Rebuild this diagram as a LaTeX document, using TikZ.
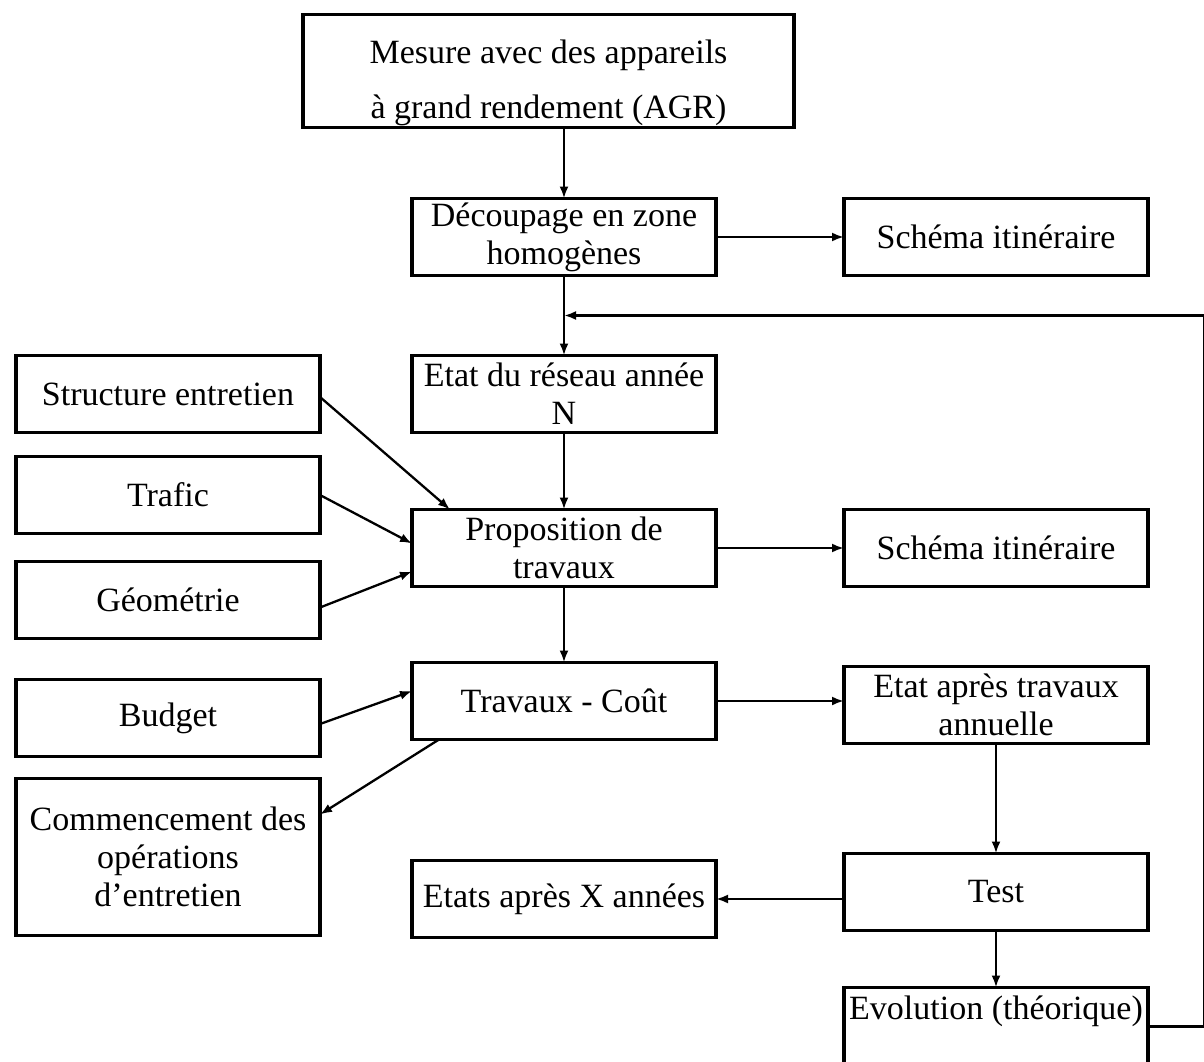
\documentclass[tikz,border=0pt]{standalone}
\usepackage{fontspec}
\setmainfont{Liberation Serif}
\usetikzlibrary{arrows.meta,positioning,calc}

\begin{document}
\begin{tikzpicture}[->,>={Latex[length=12pt,width=9pt]},x=1pt,y=-1pt,line width=2.3pt]
  \tikzstyle{every node}=[font=\fontsize{34}{38}\selectfont]
  \tikzstyle{box}=[draw,rectangle,line width=3.2pt,align=center,minimum width=304pt,
                   minimum height=77pt,inner xsep=3pt,inner ysep=0pt,outer sep=0pt]
\path [use as bounding box,fill=white] (0,0) rectangle (1204,1062);

% central column
\node [box] (dec) at (564,237) {Découpage en zone\\homogènes};
\node [box,minimum width=491pt,minimum height=113pt] (mes) [above=71pt of dec,xshift=-15.5pt]
      {\rule{0pt}{47pt}Mesure avec des appareils\\[17pt]à grand rendement (AGR)};
\node [box] (etat) [below=80pt of dec] {Etat du réseau année\\N};
\node [box] (prop) [below=77pt of etat] {Proposition de\\travaux};
\node [box] (trav) [below=76pt of prop] {Travaux - Coût};
\node [box] (etats) [below=121pt of trav] {Etats après X années};

% right column
\node [box] (sch1) [right=128pt of dec] {Schéma itinéraire};
\node [box] (sch2) [right=128pt of prop] {Schéma itinéraire};
\node [box] (etatap) [right=128pt of trav,yshift=-4pt] {Etat après travaux\\annuelle};
\node [box] (test) [below=110pt of etatap] {Test};
\node [box] (evo) [below=57pt of test] {Evolution (théorique)\rule[-90pt]{0pt}{122pt}};

% left column
\node [box] (struct) [left=92pt of etat] {Structure entretien};
\node [box] (trafic) [below=24pt of struct] {Trafic};
\node [box] (geo) [below=28pt of trafic] {Géométrie};
\node [box] (budget) [below=41pt of geo] {Budget};
\node [box,minimum height=157pt] (comm) [below=22pt of budget]
      {Commencement des\\opérations\\d’entretien};

\coordinate (join) at ($(dec.south)!0.5!(etat.north)$);

\path (mes.south -| dec.north) edge (dec.north)
      (dec) edge (etat)
      (dec) edge (sch1)
      (etat) edge (prop)
      (prop) edge (trav)
      (prop) edge (sch2)
      (trav.east) edge (trav.east -| etatap.west)
      (etatap) edge (test)
      (test) edge (evo)
      (test.west |- etats.east) edge (etats.east)
      ([yshift=-3pt]struct.east) edge ([xshift=38pt]prop.north west)
      (trafic.east) edge ([yshift=4.5pt]prop.west)
      ([yshift=-7.5pt]geo.east) edge ([yshift=15pt]prop.south west)
      ([yshift=-6pt]budget.east) edge ([yshift=10pt]trav.west)
      ([xshift=27pt]trav.south west) edge ([yshift=-36pt]comm.north east);

\draw [line width=2.8pt] ([yshift=-39pt]evo.north east) -- ++(56pt,0) |- (join);

\end{tikzpicture}
\end{document}
